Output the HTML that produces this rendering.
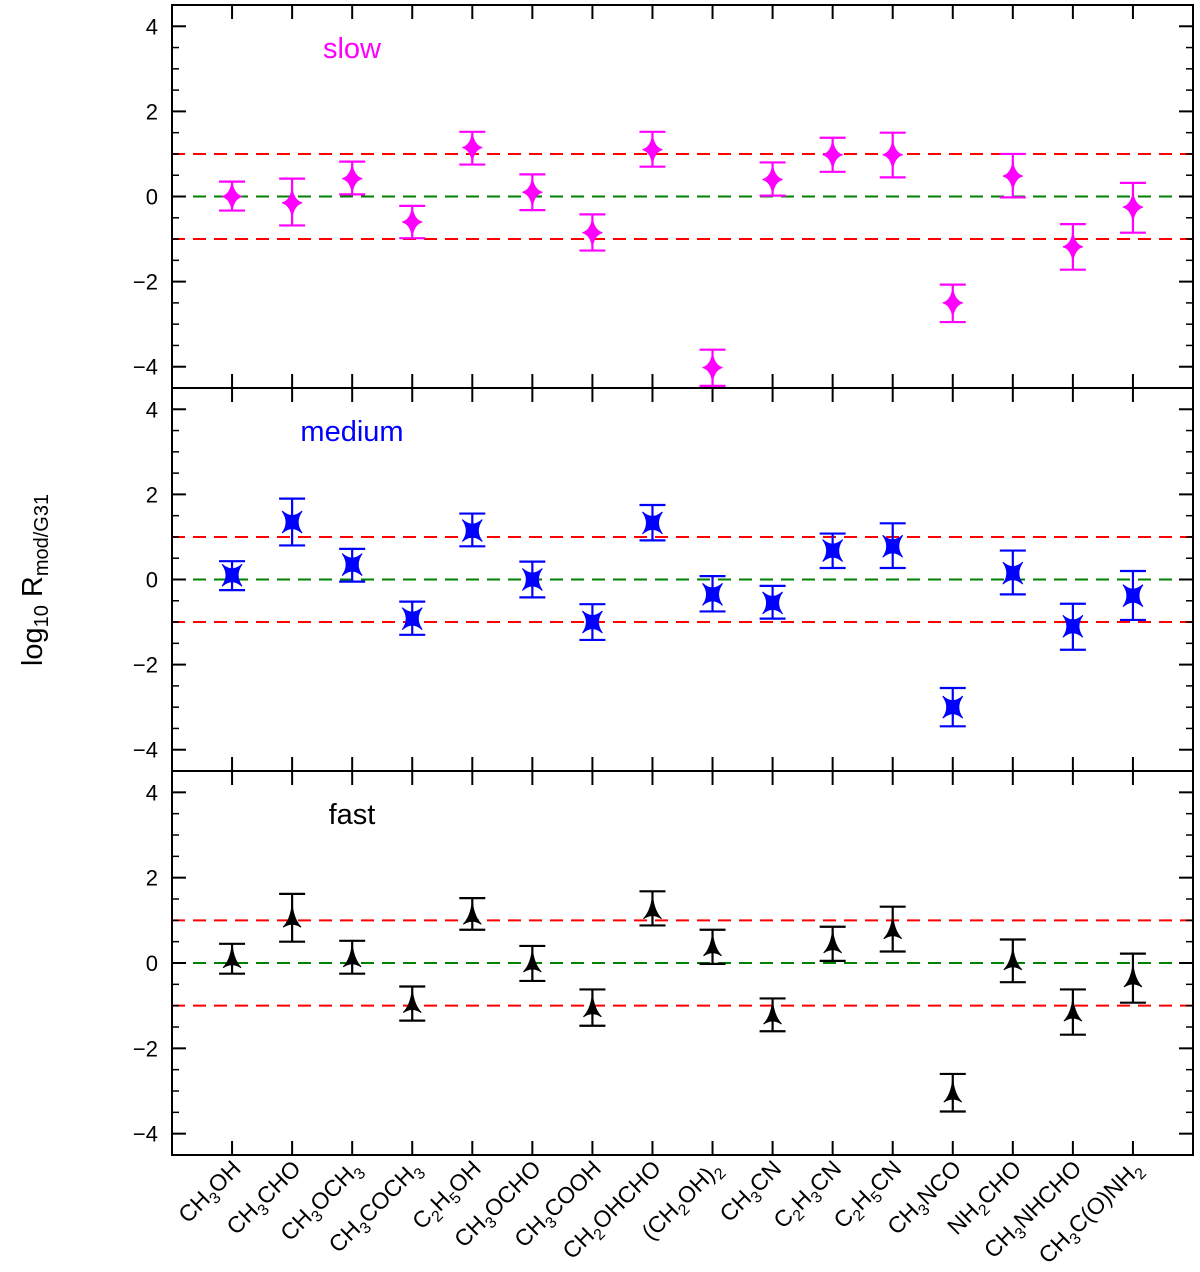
<!DOCTYPE html>
<html><head><meta charset="utf-8"><style>
body{margin:0;background:#fff}
svg text{font-family:"Liberation Sans","DejaVu Sans",sans-serif}
</style></head><body>
<svg id="chart" width="1200" height="1267" xmlns="http://www.w3.org/2000/svg"></svg>
<script>
const categories=[["CH","3","OH"],["CH","3","CHO"],["CH","3","OCH","3",""],["CH","3","COCH","3",""],["C","2","H","5","OH"],["CH","3","OCHO"],["CH","3","COOH"],["CH","2","OHCHO"],["(CH","2","OH)","2",""],["CH","3","CN"],["C","2","H","3","CN"],["C","2","H","5","CN"],["CH","3","NCO"],["NH","2","CHO"],["CH","3","NHCHO"],["CH","3","C(O)NH","2",""]];
const slowVal=[0,-0.15,0.42,-0.6,1.15,0.1,-0.85,1.1,-4.02,0.4,0.98,0.98,-2.5,0.48,-1.18,-0.25];
const slowLo=[-0.33,-0.68,0.05,-0.98,0.75,-0.32,-1.27,0.7,-4.45,0.02,0.58,0.45,-2.95,-0.02,-1.72,-0.85];
const slowHi=[0.35,0.42,0.82,-0.22,1.52,0.52,-0.42,1.52,-3.6,0.8,1.38,1.5,-2.07,1.0,-0.65,0.32];
const medVal=[0.1,1.35,0.35,-0.92,1.15,0,-1.0,1.33,-0.35,-0.55,0.68,0.78,-3.0,0.15,-1.1,-0.38];
const medLo=[-0.25,0.8,-0.05,-1.3,0.78,-0.42,-1.42,0.92,-0.75,-0.92,0.27,0.27,-3.45,-0.35,-1.65,-0.95];
const medHi=[0.43,1.9,0.72,-0.52,1.55,0.42,-0.58,1.75,0.08,-0.15,1.08,1.32,-2.55,0.68,-0.57,0.2];
const fastVal=[0.1,1.05,0.12,-0.95,1.12,0,-1.05,1.25,0.38,-1.22,0.45,0.78,-3.05,0.05,-1.15,-0.35];
const fastLo=[-0.25,0.5,-0.25,-1.35,0.78,-0.42,-1.47,0.88,-0.02,-1.6,0.05,0.27,-3.48,-0.45,-1.68,-0.93];
const fastHi=[0.45,1.62,0.52,-0.55,1.52,0.4,-0.62,1.68,0.78,-0.83,0.85,1.32,-2.6,0.55,-0.62,0.22];
const yTicks=[-4,-2,0,2,4];
const NS="http://www.w3.org/2000/svg";
const svg=document.getElementById('chart');
const L=172,R=1193;
const X=i=>L+(i+1)*(R-L)/17;
function mk(t,a,p){const e=document.createElementNS(NS,t);for(const k in a)e.setAttribute(k,a[k]);(p||svg).appendChild(e);return e;}
const panels=[{top:5,bot:388,name:'slow',color:'#ff00ff',v:slowVal,lo:slowLo,hi:slowHi,shape:'star'},
{top:388,bot:771,name:'medium',color:'#0000ff',v:medVal,lo:medLo,hi:medHi,shape:'x'},
{top:771,bot:1155,name:'fast',color:'#000',v:fastVal,lo:fastLo,hi:fastHi,shape:'arrow'}];
panels.forEach((p,pi)=>{
  const Y=v=>p.top+(4.5-v)*(p.bot-p.top)/9;
  const g=mk('g',{});
  
  
  const cl='clip'+pi;
  const cp=mk('clipPath',{id:cl},g);mk('rect',{x:L,y:p.top,width:R-L,height:p.bot-p.top},cp);
  [[-1,'#ff0000'],[0,'#008000'],[1,'#ff0000']].forEach(([v,c])=>{
    const l=mk('line',{x1:L,x2:R,y1:Y(v),y2:Y(v),stroke:c,'stroke-width':2,'stroke-dasharray':'13,8'},g);
    
    
  });
  yTicks.forEach(t=>{
    mk('line',{x1:L,x2:L+14,y1:Y(t),y2:Y(t),stroke:'#000','stroke-width':2},g);
    mk('line',{x1:R-14,x2:R,y1:Y(t),y2:Y(t),stroke:'#000','stroke-width':2},g);
    const tx=mk('text',{x:L-14,y:Y(t)+8,'text-anchor':'end','font-size':22},g);
    tx.textContent=t<0?'\u2212'+(-t):String(t);
    
    
  });
  for(let t=-4.5;t<=4.5;t+=0.5){if(Number.isInteger(t/2))continue;
    mk('line',{x1:L,x2:L+7,y1:Y(t),y2:Y(t),stroke:'#000','stroke-width':1.5},g);
    mk('line',{x1:R-7,x2:R,y1:Y(t),y2:Y(t),stroke:'#000','stroke-width':1.5},g);}
  categories.forEach((c,i)=>{
    mk('line',{x1:X(i),x2:X(i),y1:p.bot,y2:p.bot-14,stroke:'#000','stroke-width':2},g);
    mk('line',{x1:X(i),x2:X(i),y1:p.top,y2:p.top+14,stroke:'#000','stroke-width':2},g);
  });
  const dg=mk('g',{'clip-path':'url(#'+cl+')'},g);
  p.v.forEach((v,i)=>{
    const x=X(i),y=Y(v),c=p.color;
    const eb=mk('g',{stroke:c,'stroke-width':2.2,fill:'none'},dg);
    
    
    mk('line',{x1:x,x2:x,y1:Y(p.lo[i]),y2:Y(p.hi[i])},eb);
    mk('line',{x1:x-13,x2:x+13,y1:Y(p.lo[i]),y2:Y(p.lo[i])},eb);
    mk('line',{x1:x-13,x2:x+13,y1:Y(p.hi[i]),y2:Y(p.hi[i])},eb);
    let d;
    if(p.shape=='star') d=`M${x},${y-14} Q${x+2},${y-2} ${x+10},${y} Q${x+2},${y+2} ${x},${y+14} Q${x-2},${y+2} ${x-10},${y} Q${x-2},${y-2} ${x},${y-14}Z`;
    else if(p.shape=='x') d=`M${x-10},${y-11} Q${x},${y-2} ${x+10},${y-11} Q${x+2},${y} ${x+10},${y+11} Q${x},${y+2} ${x-10},${y+11} Q${x-2},${y} ${x-10},${y-11}Z`;
    else d=`M${x},${y-13} Q${x+2},${y+2} ${x+9},${y+9} Q${x},${y+3} ${x-9},${y+9} Q${x-2},${y+2} ${x},${y-13}Z`;
    const m=mk('path',{d:d,fill:c,stroke:c,'stroke-width':1},dg);
    
    
  });
  mk('rect',{x:L,y:p.top,width:R-L,height:p.bot-p.top,fill:'none',stroke:'#000','stroke-width':2},g);
  const lt=mk('text',{x:352,y:p.top+53,'text-anchor':'middle','font-size':29,fill:p.color},g);
  lt.textContent=p.name;
  
  
});
categories.forEach((c,i)=>{
  const x=X(i)+10,y=1170;
  const t=mk('text',{'font-size':23,'text-anchor':'end',transform:`translate(${x},${y}) rotate(-45)`});
  
  
  for(let k=0;k<c.length;k++){if(c[k]==='')continue;
    const s=mk('tspan',{},t);s.textContent=c[k];
    if(k%2==1){s.setAttribute('font-size',16);s.setAttribute('dy',6);}
    else if(k>0){s.setAttribute('dy',-6);}
  }
});
const yl=mk('text',{transform:'translate(42,580) rotate(-90)','text-anchor':'middle','font-size':29});


yl.innerHTML='log<tspan font-size="20" dy="6">10</tspan><tspan dy="-6">  R</tspan><tspan font-size="20" dy="6">mod/G31</tspan>';
</script>
</body></html>
